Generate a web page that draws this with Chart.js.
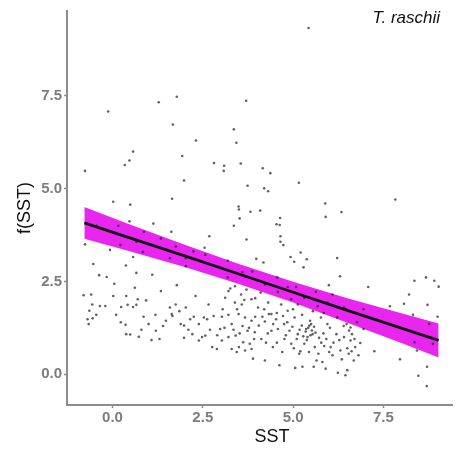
<!DOCTYPE html>
<html>
<head>
<meta charset="utf-8">
<script src="https://cdn.jsdelivr.net/npm/chart.js@4"></script>
<style>
  html, body { margin: 0; padding: 0; background: #fff; }
  #wrap { width: 456px; height: 450px; position: relative; }
</style>
</head>
<body>
<div id="wrap"><canvas id="sstChart"></canvas></div>
<script>
'use strict';

// --- data ---
const xTicks = [0, 2.5, 5, 7.5];
const yTicks = [0, 2.5, 5, 7.5];

// observations (SST, partial residual)
const obsSST = [
  5.43, 1.78, 1.28, 3.70, -0.12, 1.67, 3.36, 3.43, 2.31, 0.57, 1.93, 0.47, 0.34, 2.81, 3.09, 3.08,
  3.55, 4.16, 4.37, -0.76, 1.98, 5.16, 3.74, 4.20, 4.31, 0.02, 1.65, 0.49, 7.83, 5.89, 6.34, 3.49,
  3.50, 3.82, 4.09, 4.64, 4.54, 4.63, 5.90, 3.52, 3.36, 1.13, 2.68, 4.65, 3.71, 4.65, 1.63, 0.87,
  0.16, 0.47, 4.73, 5.21, 4.93, 5.38, 3.98, 4.18, 5.03, 6.22, 5.29, 6.30, 5.99, 7.08, 8.36, 8.68,
  8.91, 9.03, 8.21, 8.07, 8.72, 7.68, 9.00, 8.32, 8.77, 7.96, 8.43, 7.25, 8.47, 8.70, 8.71, 8.87,
  8.36, 6.95, 7.04, 6.95, 6.46, 6.59,
  -0.76, -0.44, -0.07, 0.22, -0.53, -0.37, -0.16, 0.05, 0.57, 0.66, 0.37, 0.84, 0.66, 1.34, 1.10, 1.59,
  1.75, 2.03, 2.03, 2.24, 2.55, 2.57, 3.19, 3.19, 3.60, 3.69, 3.87, 4.03, 4.22, 4.56, 4.58, 4.85,
  5.08, 5.31, 5.63, 5.68, 5.95, 6.09, 6.41, 6.22, 4.95, 5.13,
  -0.80, -0.59, -0.56, -0.64, -0.69, -0.66, -0.55, -0.20, 0.02, 0.24, 0.38, 0.42, 0.57, 0.66, 0.62, 0.93,
  0.70, 0.86, 0.23, 0.36, 0.38, 0.49, 0.73, 1.08, 1.19, 1.34, 1.20, 1.59, 1.66, 1.75, 1.78, 2.03,
  1.89, 1.98, 2.15, 2.30, 2.21, 1.98, 1.48, 1.64, 2.48, 2.53, 2.39, 2.62, 2.66, 2.80, 2.76, 2.89,
  2.98, 3.03, 3.12, 3.21, 3.26, 3.30, 3.39, 3.41, 3.49, 3.56, 3.58, 3.67, 3.74, 3.50, 3.67, 3.80,
  3.89, 3.85, 3.94, 4.05, 4.12, 4.22, 4.22, 4.33, 4.40, 4.44, 4.53, 4.58, 4.62, 4.72, 4.76, 4.84,
  4.90, 4.95, 5.04, 5.06, 5.13, 5.17, 5.24, 5.26, 5.31, 5.36, 5.40, 5.45, 5.47, 5.54, 5.57, 5.60,
  5.65, 5.72, 5.77, 5.81, 5.86, 5.90, 5.95, 6.04, 6.09, 6.20, 6.24, 6.31, 6.41, 6.45, 6.50, 6.54,
  6.59, 6.63, 6.68, 6.72, 6.81, 6.86, 6.77, 4.40, 4.67, 4.85, 4.31, 4.03, 3.85, 3.71, 3.39, 3.21,
  3.30, 3.44, 3.85, 3.62, 3.21, 3.03, 2.39, 2.57, -0.35,
  5.35, 5.42, 5.50, 5.52, 5.58, 5.48, 5.62, 5.38, 5.28, 5.18, 5.10, 5.02, 5.20, 5.44, 5.70, 5.78,
  5.84, 5.92, 6.00, 6.12, 6.28, 6.35, 6.50, 6.55, 6.62, 6.70, 6.40, 6.48, 6.02, 4.98, 4.80, 4.70,
  4.55, 4.45, 4.30, 4.25, 4.15, 3.95, 3.92, 3.78, 3.60, 3.52, 3.35, 3.10, 2.90, 2.70, 3.05, 3.45,
  3.65, 3.95, 4.20, 4.55, 4.75, 5.00, 5.25, 5.55, 5.85, 4.10, 1.40, 1.00, 0.80, 0.10, -0.45, 1.30,
  2.10, 2.25, 1.85
];
const obsF = [
  9.33, 7.48, 7.33, 7.37, 7.08, 6.73, 6.60, 6.24, 6.30, 6.00, 5.88, 5.76, 5.64, 5.69, 5.62, 5.48,
  5.68, 5.55, 5.42, 5.48, 5.22, 5.16, 5.08, 5.01, 4.93, 4.65, 4.73, 4.57, 4.71, 4.60, 4.37, 4.52,
  4.44, 4.38, 4.41, 4.21, 4.04, 4.02, 4.24, 4.20, 4.00, 4.06, 3.72, 3.72, 3.63, 3.57, 3.84, 3.84,
  4.00, 4.12, 3.48, 3.28, 3.16, 3.10, 3.11, 3.01, 3.03, 3.13, 2.88, 2.64, 2.40, 2.35, 2.52, 2.61,
  2.52, 2.36, 2.15, 1.90, 1.87, 1.83, 1.55, 1.60, 1.35, 0.40, 0.64, 0.62, -0.04, -0.32, 0.20, 0.82,
  0.86, 1.22, 1.55, 1.75, 1.75, 1.26,
  3.50, 4.00, 3.35, 3.48, 2.97, 2.67, 2.62, 2.44, 3.16, 2.73, 2.93, 3.29, 3.57, 3.66, 2.68, 3.13,
  3.44, 3.13, 2.91, 3.31, 3.41, 3.22, 3.06, 2.61, 2.75, 2.63, 2.77, 2.52, 2.42, 2.61, 2.22, 2.35,
  2.35, 2.06, 2.22, 1.83, 1.93, 2.15, 1.80, 1.53, 2.02, 1.88,
  2.13, 2.15, 1.88, 1.71, 1.48, 1.35, 1.51, 1.84, 2.11, 1.81, 2.11, 1.87, 1.81, 1.87, 2.33, 1.99,
  2.02, 1.55, 1.40, 1.33, 1.08, 1.07, 1.01, 0.92, 1.60, 2.24, 1.17, 1.80, 1.57, 1.88, 2.40, 1.80,
  1.35, 1.31, 1.48, 2.11, 1.08, 0.98, 1.44, 1.62, 1.00, 1.53, 1.35, 1.48, 1.88, 1.57, 0.73, 0.68,
  1.22, 1.55, 2.06, 1.60, 2.31, 1.35, 1.93, 1.04, 1.62, 2.15, 1.88, 1.53, 1.17, 0.73, 0.64, 0.82,
  0.42, 1.44, 1.13, 1.31, 0.95, 1.42, 0.37, 1.62, 1.17, 0.73, 1.48, 1.22, 0.24, 1.57, 0.95, 1.40,
  1.17, 0.82, 1.53, 0.17, 1.08, 0.55, 1.31, 0.20, 0.82, 1.22, 1.00, 1.31, 1.44, 1.08, 0.20, 0.73,
  0.37, 0.98, 1.53, 0.33, 0.76, 0.15, 1.35, 0.73, 0.51, 1.08, 0.04, 0.64, 1.00, -0.03, 0.11, 0.55,
  0.91, 1.08, 0.37, 0.73, 0.51, 0.84, 1.40, 1.62, 1.88, 1.71, 1.93, 1.80, 2.02, 2.28, 2.37, 2.24,
  0.68, 0.60, 0.68, 0.86, 1.00, 0.91, 0.91, 1.04, 1.84,
  1.15, 1.25, 1.35, 1.18, 1.28, 1.05, 1.12, 0.92, 1.02, 1.20, 0.95, 0.70, 0.62, 0.60, 0.55, 0.85,
  1.10, 0.95, 0.60, 0.85, 0.92, 0.40, 0.70, 1.18, 0.62, 0.95, 1.30, 1.35, 1.25, 1.28, 1.05, 0.60,
  0.85, 1.35, 1.10, 0.85, 1.55, 1.55, 0.95, 1.25, 1.30, 1.10, 1.20, 1.25, 1.05, 1.20, 1.75, 1.75,
  2.00, 2.05, 1.75, 1.65, 1.35, 1.75, 1.60, 1.70, 1.65, 2.20, 1.30, 1.35, 1.20, 1.60, 1.60, 0.95,
  1.20, 1.55, 1.70
];

// fitted smooth and its confidence band
const fitSST = [-0.78, 0.5, 2.0, 3.5, 5.0, 6.5, 8.0, 9.03];
const fitF   = [4.08, 3.67, 3.19, 2.70, 2.21, 1.72, 1.24, 0.91];
const fitLo  = [3.65, 3.31, 2.89, 2.43, 1.93, 1.39, 0.84, 0.45];
const fitHi  = [4.51, 4.03, 3.49, 2.97, 2.49, 2.05, 1.64, 1.37];

const zip = (xs, ys) => xs.map((x, i) => ({ x, y: ys[i] }));

const FONT = "'Liberation Sans', Arial, sans-serif";

// species name in the top-right corner and the x-axis title (sits a bit right of centre in the original)
const labels = {
  id: 'labels',
  afterDraw(chart) {
    const ctx = chart.ctx;
    ctx.save();
    ctx.fillStyle = '#111';
    ctx.textBaseline = 'middle';
    ctx.font = 'italic 17px ' + FONT;
    ctx.textAlign = 'right';
    ctx.fillText('T. raschii', 440, 18);
    ctx.font = '18px ' + FONT;
    ctx.textAlign = 'center';
    ctx.fillText('SST', 272, 437);
    ctx.restore();
  },
};

new Chart(document.getElementById('sstChart').getContext('2d'), {
  type: 'scatter',
  data: {
    datasets: [
      {
        type: 'line',
        data: zip(fitSST, fitHi),
        borderWidth: 0,
        pointRadius: 0,
        backgroundColor: '#e926f0',
        fill: '+1',
        order: 3,
      },
      {
        type: 'line',
        data: zip(fitSST, fitLo),
        borderWidth: 0,
        pointRadius: 0,
        fill: false,
        order: 3,
      },
      {
        data: zip(obsSST, obsF),
        pointRadius: 1.3,
        borderWidth: 0,
        backgroundColor: 'rgba(30,30,30,0.7)',
        order: 2,
      },
      {
        type: 'line',
        data: zip(fitSST, fitF),
        borderColor: '#111',
        borderWidth: 2.8,
        pointRadius: 0,
        fill: false,
        order: 1,
      },
    ],
  },
  options: {
    responsive: true,
    maintainAspectRatio: false,
    animation: false,
    layout: { padding: { top: 7, right: 0, left: 0, bottom: 0 } },
    plugins: { legend: { display: false }, tooltip: { enabled: false } },
    scales: {
      x: {
        type: 'linear',
        min: -1.26,
        max: 9.4,
        afterBuildTicks: s => { s.ticks = xTicks.map(v => ({ value: v })); },
        afterFit: s => { s.height = 45; },
        border: { color: '#8c8c8c', width: 2 },
        grid: { drawOnChartArea: false, color: '#8c8c8c', tickLength: 3, tickWidth: 1.5 },
        ticks: { color: '#7d7d7d', padding: 1, font: { family: FONT, size: 15, weight: 'bold' }, callback: v => v.toFixed(1) },
        title: { display: false },
      },
      y: {
        min: -0.83,
        max: 9.79,
        afterBuildTicks: s => { s.ticks = yTicks.map(v => ({ value: v })); },
        afterFit: s => { s.width = 67; },
        border: { color: '#8c8c8c', width: 2 },
        grid: { drawOnChartArea: false, color: '#8c8c8c', tickLength: 3, tickWidth: 1.5 },
        ticks: { color: '#7d7d7d', padding: 2, font: { family: FONT, size: 15, weight: 'bold' }, callback: v => v.toFixed(1) },
        title: { display: true, text: 'f(SST)', color: '#111', font: { family: FONT, size: 18 }, padding: { top: 14, bottom: 0 } },
      },
    },
  },
  plugins: [labels],
});
</script>
</body>
</html>
